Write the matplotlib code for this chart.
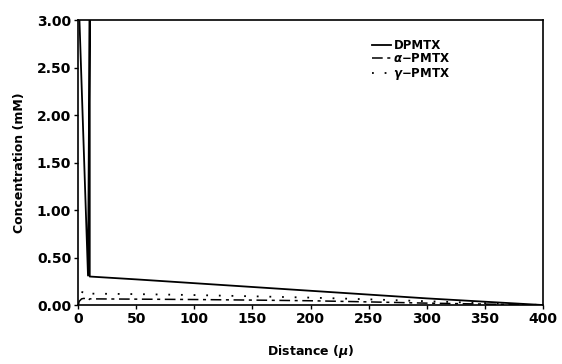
import numpy as np
import matplotlib
matplotlib.use('Agg')
from matplotlib import pyplot as plt

#%% data
dpmtx_x = [1.0, 8.5, 10, 10, 50, 100, 150, 200, 250, 300, 350, 400]
dpmtx_y = [3.05, 0.31, 3.2, 0.30, 0.27, 0.23, 0.19, 0.15, 0.11, 0.07, 0.035, 0.0]

apmtx_x = [0, 1, 3, 5, 7, 9, 10, 50, 100, 150, 200, 250, 300, 350, 400]
apmtx_y = [0.0, 0.04, 0.065, 0.07, 0.065, 0.05, 0.065, 0.062, 0.058, 0.052, 0.045, 0.033, 0.02, 0.01, 0.0]

gpmtx_x = [0, 4, 10, 50, 100, 150, 200, 250, 300, 350, 400]
gpmtx_y = [0.0, 0.15, 0.12, 0.115, 0.105, 0.092, 0.078, 0.06, 0.04, 0.02, 0.0]

xticks = [0, 50, 100, 150, 200, 250, 300, 350, 400]
yticks = [0.0, 0.5, 1.0, 1.5, 2.0, 2.5, 3.0]

#%% plot
plt.rcParams['font.family'] = 'DejaVu Sans'
plt.rcParams['font.weight'] = 'bold'

fig = plt.figure(figsize=(5.62, 3.64), dpi=100)
ax = fig.add_axes([0.139, 0.162, 0.827, 0.783])

ax.plot(dpmtx_x, dpmtx_y, 'k-', lw=1.3, label='DPMTX')
ax.plot(apmtx_x, apmtx_y, color='k', lw=1.1, dashes=(7, 3, 2, 3), label='$\\alpha$\u2212PMTX')
ax.plot(gpmtx_x, gpmtx_y, color='k', lw=1.3, ls=(0, (1, 6)), label='$\\gamma$\u2212PMTX')

ax.set_xlim(0, 400)
ax.set_ylim(0, 3.0)
ax.set_xticks(xticks)
ax.set_yticks(yticks)
ax.set_yticklabels(['%.2f' % v for v in yticks])
ax.tick_params(direction='out', length=3, width=1, labelsize=10, pad=2)
for s in ax.spines.values():
    s.set_linewidth(1.2)

ax.set_xlabel('Distance ($\\mu$)', fontsize=9, fontweight='bold', labelpad=12)
ax.set_ylabel('Concentration (mM)', fontsize=9, fontweight='bold', labelpad=8)

leg = ax.legend(loc='upper left', bbox_to_anchor=(0.62, 0.955), frameon=False,
                fontsize=8.5, handlelength=1.6, handletextpad=0.2, labelspacing=0.05,
                borderpad=0)

fig.savefig('out.png', dpi=100)
